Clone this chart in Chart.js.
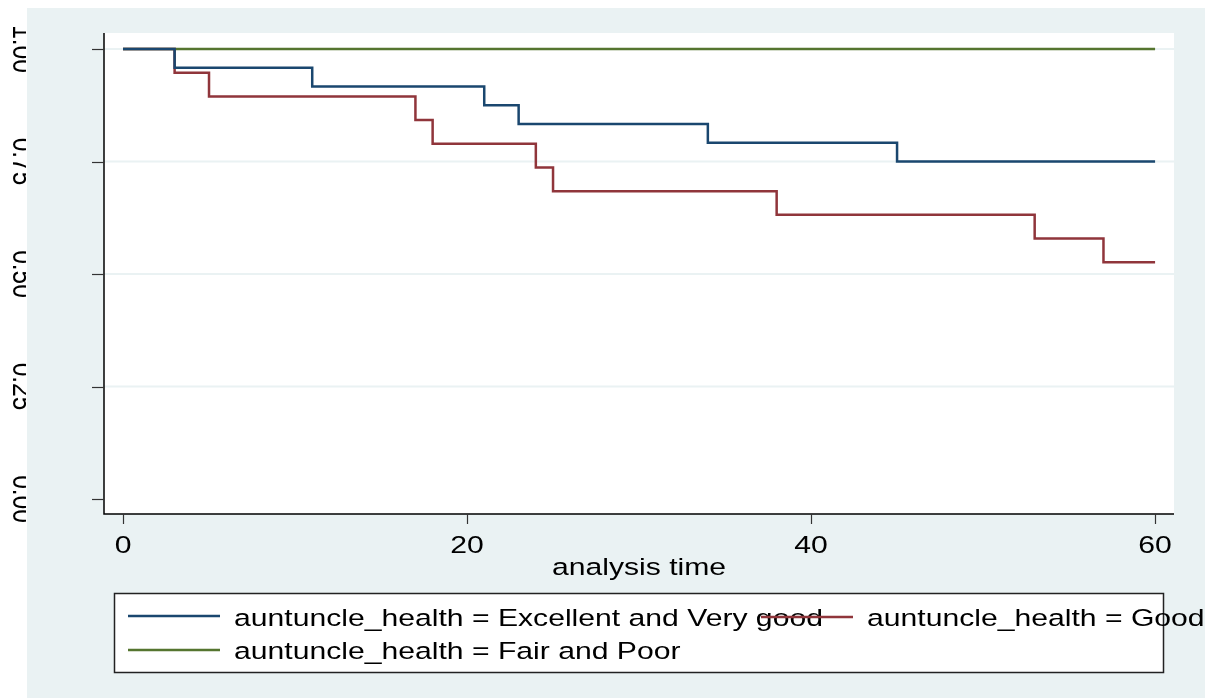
<!DOCTYPE html>
<html>
<head>
<meta charset="utf-8">
<script src="https://cdn.jsdelivr.net/npm/chart.js@4/dist/chart.umd.min.js"></script>
<style>
  html, body { margin: 0; padding: 0; background: #ffffff; }
  #km { display: block; }
</style>
</head>
<body>
<canvas id="km" width="1211" height="698"></canvas>
<script>
// Kaplan-Meier survival estimates by aunt/uncle health
var groupNames = [
	'auntuncle_health = Excellent and Very good',
	'auntuncle_health = Good',
	'auntuncle_health = Fair and Poor'
];
var timesExcellent = [0, 3, 11, 21, 23, 34, 45, 60];
var survExcellent  = [1, 0.9583, 0.9167, 0.875, 0.8333, 0.7917, 0.75, 0.75];
var timesGood = [0, 3, 5, 17, 18, 24, 25, 38, 53, 57, 60];
var survGood  = [1, 0.9474, 0.8947, 0.8421, 0.7895, 0.7368, 0.6842, 0.6316, 0.5789, 0.5263, 0.5263];
var timesFair = [0, 60];
var survFair  = [1, 1];

var xTicks = [0, 20, 40, 60];
var yTicks = [0, 0.25, 0.5, 0.75, 1];
var yTickLabels = ['0.00', '0.25', '0.50', '0.75', '1.00'];
var xTitle = 'analysis time';

var colors = ['#1a476f', '#90353b', '#55752f'];
var bgColor = '#eaf2f3';

function toPoints(t, s) {
	return t.map(function(v, i) { return { x: v, y: s[i] }; });
}

// stretched text, the exported graph is wider than it is tall
var FONT = '24.5px "Liberation Sans", Arial, sans-serif';
var SX = 1.23;
function wideText(ctx, str, x, y, align) {
	ctx.save();
	ctx.font = FONT;
	ctx.textBaseline = 'alphabetic';
	var w = ctx.measureText(str).width * SX;
	var left = x;
	if (align === 'center') left = x - w / 2;
	ctx.translate(left, y);
	ctx.scale(SX, 1);
	ctx.textAlign = 'left';
	ctx.fillText(str, 0, 0);
	ctx.restore();
}

var stataFrame = {
	id: 'stataFrame',
	beforeDraw: function(chart) {
		var ctx = chart.ctx, a = chart.chartArea;
		var ys = chart.scales.y;
		ctx.save();
		ctx.fillStyle = '#ffffff';
		ctx.fillRect(0, 0, chart.width, chart.height);
		ctx.fillStyle = bgColor;
		ctx.fillRect(27, 8, 1178, chart.height - 8);
		ctx.fillStyle = '#ffffff';
		ctx.fillRect(a.left, a.top, a.right - a.left, a.bottom - a.top);
		// horizontal grid
		ctx.strokeStyle = bgColor;
		ctx.lineWidth = 2;
		yTicks.forEach(function(v) {
			if (v === 0) return;
			var y = ys.getPixelForValue(v);
			ctx.beginPath();
			ctx.moveTo(a.left, y);
			ctx.lineTo(a.right, y);
			ctx.stroke();
		});
		ctx.restore();
	},
	afterDraw: function(chart) {
		var ctx = chart.ctx, a = chart.chartArea;
		var xs = chart.scales.x, ys = chart.scales.y;
		ctx.save();
		// axis lines
		ctx.strokeStyle = '#000000';
		ctx.lineWidth = 1.5;
		ctx.beginPath();
		ctx.moveTo(a.left, a.top);
		ctx.lineTo(a.left, a.bottom);
		ctx.lineTo(a.right, a.bottom);
		ctx.stroke();
		// tick marks
		ctx.strokeStyle = '#333333';
		ctx.lineWidth = 1.2;
		yTicks.forEach(function(v) {
			var y = Math.round(ys.getPixelForValue(v)) + 0.5;
			ctx.beginPath();
			ctx.moveTo(a.left - 12, y);
			ctx.lineTo(a.left, y);
			ctx.stroke();
		});
		xTicks.forEach(function(v) {
			var x = Math.round(xs.getPixelForValue(v)) + 0.5;
			ctx.beginPath();
			ctx.moveTo(x, a.bottom);
			ctx.lineTo(x, a.bottom + 10);
			ctx.stroke();
		});
		ctx.fillStyle = '#000000';
		// x tick labels and title
		xTicks.forEach(function(v) {
			wideText(ctx, String(v), xs.getPixelForValue(v), 553, 'center');
		});
		wideText(ctx, xTitle, (a.left + a.right) / 2, 575, 'center');
		// y tick labels, vertical (reading downwards), only their lower half shows
		ctx.save();
		ctx.beginPath();
		ctx.rect(0, 0, 26, chart.height);
		ctx.clip();
		ctx.font = FONT;
		ctx.textAlign = 'center';
		ctx.textBaseline = 'alphabetic';
		yTicks.forEach(function(v, i) {
			ctx.save();
			ctx.translate(13, ys.getPixelForValue(v));
			ctx.scale(SX, 1);
			ctx.rotate(Math.PI / 2);
			ctx.fillText(yTickLabels[i], 0, 0);
			ctx.restore();
		});
		ctx.restore();
		// legend
		var box = { x: 114, y: 593, w: 1049, h: 79 };
		ctx.fillStyle = '#ffffff';
		ctx.fillRect(box.x, box.y, box.w, box.h);
		ctx.strokeStyle = '#222222';
		ctx.lineWidth = 1.5;
		ctx.strokeRect(box.x + 0.5, box.y + 0.5, box.w, box.h);
		var slots = [
			{ lx: 128, ly: 616, ty: 626 },
			{ lx: 761, ly: 617, ty: 626 },
			{ lx: 128, ly: 650, ty: 659 }
		];
		chart.data.datasets.forEach(function(ds, i) {
			var s = slots[i];
			ctx.fillStyle = '#000000';
			wideText(ctx, ds.label, s.lx + 106, s.ty, 'left');
			ctx.strokeStyle = ds.borderColor;
			ctx.lineWidth = 2.5;
			ctx.beginPath();
			ctx.moveTo(s.lx, s.ly);
			ctx.lineTo(s.lx + 92, s.ly);
			ctx.stroke();
		});
		ctx.restore();
	}
};

var config = {
	type: 'line',
	data: {
		datasets: [{
			label: groupNames[0],
			data: toPoints(timesExcellent, survExcellent),
			borderColor: colors[0]
		}, {
			label: groupNames[1],
			data: toPoints(timesGood, survGood),
			borderColor: colors[1]
		}, {
			label: groupNames[2],
			data: toPoints(timesFair, survFair),
			borderColor: colors[2]
		}]
	},
	options: {
		responsive: false,
		animation: false,
		devicePixelRatio: 1,
		layout: {
			padding: { left: 104, right: 37, top: 33, bottom: 184 }
		},
		elements: {
			line: { stepped: true, borderWidth: 2.5, fill: false, tension: 0 },
			point: { radius: 0, hoverRadius: 0 }
		},
		scales: {
			x: { type: 'linear', display: false, min: -1.105, max: 61.1 },
			y: { type: 'linear', display: false, min: -0.0333, max: 1.0356 }
		},
		plugins: {
			legend: { display: false },
			tooltip: { enabled: false }
		}
	},
	plugins: [stataFrame]
};

var ctx = document.getElementById('km').getContext('2d');
window.kmChart = new Chart(ctx, config);
</script>
</body>
</html>
